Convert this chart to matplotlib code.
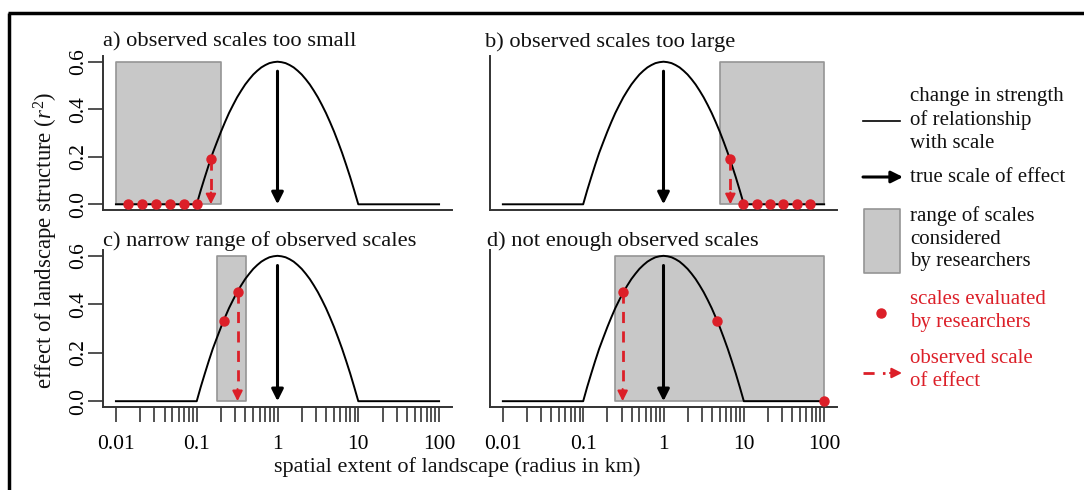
import matplotlib
matplotlib.use("Agg")
import matplotlib.pyplot as plt

plt.rcParams['font.family'] = ['Liberation Serif', 'DejaVu Serif']
plt.rcParams['mathtext.fontset'] = 'custom'
plt.rcParams['mathtext.rm'] = 'Liberation Serif'
plt.rcParams['mathtext.it'] = 'Liberation Serif:italic'

# curve: change in strength of relationship with scale
curve_x = [0.01, 0.1, 0.112, 0.126, 0.141, 0.158, 0.178, 0.2, 0.224, 0.251, 0.282,
           0.316, 0.355, 0.398, 0.447, 0.501, 0.562, 0.631, 0.708, 0.794, 0.891, 1.0,
           1.122, 1.259, 1.413, 1.585, 1.778, 1.995, 2.239, 2.512, 2.818, 3.162,
           3.548, 3.981, 4.467, 5.012, 5.623, 6.31, 7.079, 7.943, 8.913, 10.0, 100.0]
curve_y = [0.0, 0.0, 0.058, 0.114, 0.166, 0.216, 0.262, 0.306, 0.346, 0.384, 0.418,
           0.45, 0.478, 0.504, 0.526, 0.546, 0.562, 0.576, 0.586, 0.594, 0.598, 0.6,
           0.598, 0.594, 0.586, 0.576, 0.562, 0.546, 0.526, 0.504, 0.478, 0.45,
           0.418, 0.384, 0.346, 0.306, 0.262, 0.216, 0.166, 0.114, 0.058, 0.0, 0.0]

titles = ["a) observed scales too small", "b) observed scales too large",
          "c) narrow range of observed scales", "d) not enough observed scales"]

# range of scales considered (x from, x to)
box_a = [0.01, 0.2]
box_b = [5.0, 100.0]
box_c = [0.18, 0.41]
box_d = [0.25, 100.0]
box_top = 0.6

# scales evaluated by researchers
dots_a_x = [0.014, 0.021, 0.031, 0.047, 0.069, 0.1, 0.15]
dots_a_y = [0.0, 0.0, 0.0, 0.0, 0.0, 0.0, 0.19]
dots_b_x = [6.8, 9.8, 14.5, 21.0, 31.0, 46.0, 66.0]
dots_b_y = [0.19, 0.0, 0.0, 0.0, 0.0, 0.0, 0.0]
dots_c_x = [0.22, 0.32]
dots_c_y = [0.33, 0.45]
dots_d_x = [0.31, 4.6, 100.0]
dots_d_y = [0.45, 0.33, 0.0]

# observed scale of effect (x, r2)
obs = [(0.15, 0.19), (6.8, 0.19), (0.32, 0.45), (0.31, 0.45)]
true_scale = 1.0
true_top = 0.56

boxes = [box_a, box_b, box_c, box_d]
dots = [(dots_a_x, dots_a_y), (dots_b_x, dots_b_y), (dots_c_x, dots_c_y), (dots_d_x, dots_d_y)]

red = '#dc1f28'
W, H = 1084, 490
fig = plt.figure(figsize=(W / 100, H / 100), dpi=100)

# panel boxes in pixels: left, top, right, bottom
pos = [(103, 56, 452, 210), (490, 56, 837, 210),
       (103, 250, 452, 407), (490, 250, 837, 407)]
title_y = [1.09, 1.09, 1.057, 1.057]
title_x = [0.0, -0.014, 0.0, -0.009]

dec = [0.01, 0.1, 1, 10, 100]
minor = [m * d for d in [0.01, 0.1, 1, 10] for m in range(2, 10)]

for i in range(4):
    l, t, r, b = pos[i]
    ax = fig.add_axes([l / W, 1 - b / H, (r - l) / W, (b - t) / H])
    ax.set_xscale('log')
    ax.set_xlim(10 ** -2.16, 10 ** 2.16)
    ax.set_ylim(-0.024, 0.624)
    for s in ['top', 'right']:
        ax.spines[s].set_visible(False)
    for s in ['left', 'bottom']:
        ax.spines[s].set_color('#333333')
        ax.spines[s].set_linewidth(1.4)

    ax.fill_between(boxes[i], 0, box_top, facecolor='#c8c8c8',
                    edgecolor='#959595', linewidth=1.2, zorder=1)
    ax.plot(curve_x, curve_y, color='black', lw=1.4, zorder=3)

    ax.annotate('', xy=(true_scale, 0.0), xytext=(true_scale, true_top),
                arrowprops=dict(arrowstyle='-|>,head_width=0.35,head_length=0.7',
                                color='black', lw=2.2, shrinkA=0, shrinkB=0,
                                mutation_scale=10), zorder=4)

    ox, oy = obs[i]
    ax.plot([ox, ox], [oy, 0.045], color=red, lw=2, dashes=(4, 3), zorder=5)
    ax.annotate('', xy=(ox, 0.0), xytext=(ox, 0.05),
                arrowprops=dict(arrowstyle='-|>,head_width=0.3,head_length=0.6',
                                color=red, lw=1.5, shrinkA=0, shrinkB=0,
                                mutation_scale=10), zorder=5)
    ax.plot(dots[i][0], dots[i][1], 'o', color=red, ms=6.5, mec=red, zorder=6,
            clip_on=False)

    ax.text(title_x[i], title_y[i], titles[i], transform=ax.transAxes,
            fontsize=16.2, ha='left', va='center', color='#111111')

    if i >= 2:
        ax.set_xticks(dec)
        ax.set_xticklabels(['0.01', '0.1', '1', '10', '100'])
        ax.set_xticks(minor, minor=True)
        ax.xaxis.set_minor_formatter(plt.NullFormatter())
        ax.tick_params(axis='x', which='both', length=11, width=1.2,
                       color='#333333', labelsize=15.5, pad=9.5)
    else:
        ax.set_xticks([])
        ax.set_xticks([], minor=True)
    if i % 2 == 0:
        ax.set_yticks([0.0, 0.2, 0.4, 0.6])
        ax.set_yticklabels(['0.0', '0.2', '0.4', '0.6'], rotation=90, va='center')
        ax.tick_params(axis='y', length=11, width=1.2, color='#333333',
                       labelsize=15.5, pad=0)
    else:
        ax.set_yticks([])

# overlay for frame, axis labels and the hand-placed legend
ov = fig.add_axes([0, 0, 1, 1], zorder=-1)
ov.set_xlim(0, W)
ov.set_ylim(H, 0)
ov.axis('off')
ov.plot([8, W], [13, 13], color='black', lw=2.5, solid_capstyle='butt')
ov.plot([9, 9], [13, H], color='black', lw=2.5, solid_capstyle='butt')

ov.text(46, 240, 'effect of landscape structure ($r^2$)', rotation=90,
        ha='center', va='center', fontsize=16.4, color='#111111')
ov.text(457, 467, 'spatial extent of landscape (radius in km)',
        ha='center', va='center', fontsize=16, color='#111111')

fs = 15
ls = 1.25
ov.plot([863, 900], [121, 121], color='black', lw=1.2)
ov.text(910, 120, 'change in strength\nof relationship\nwith scale', fontsize=fs,
        va='center', ha='left', linespacing=ls, color='#111111')
ov.annotate('', xy=(903, 177), xytext=(863, 177),
            arrowprops=dict(arrowstyle='-|>,head_width=0.35,head_length=0.7',
                            color='black', lw=2.2, shrinkA=0, shrinkB=0,
                            mutation_scale=10))
ov.text(910, 177, 'true scale of effect', fontsize=fs, va='center', ha='left',
        color='#111111')
ov.fill_between([864, 900], 209, 273, facecolor='#c8c8c8', edgecolor='#959595',
                linewidth=1.2)
ov.text(910, 239, 'range of scales\nconsidered\nby researchers', fontsize=fs,
        va='center', ha='left', linespacing=ls, color='#111111')
ov.plot([881], [313], 'o', color=red, ms=6.5)
ov.text(910, 311, 'scales evaluated\nby researchers', fontsize=fs, va='center',
        ha='left', linespacing=ls, color=red)
ov.plot([863, 885], [373, 373], color=red, lw=2, dashes=(4, 3))
ov.annotate('', xy=(902, 373), xytext=(890, 373),
            arrowprops=dict(arrowstyle='-|>,head_width=0.3,head_length=0.6',
                            color=red, lw=1.5, shrinkA=0, shrinkB=0,
                            mutation_scale=10))
ov.text(910, 370, 'observed scale\nof effect', fontsize=fs, va='center',
        ha='left', linespacing=ls, color=red)

fig.savefig('out.png', dpi=100)
